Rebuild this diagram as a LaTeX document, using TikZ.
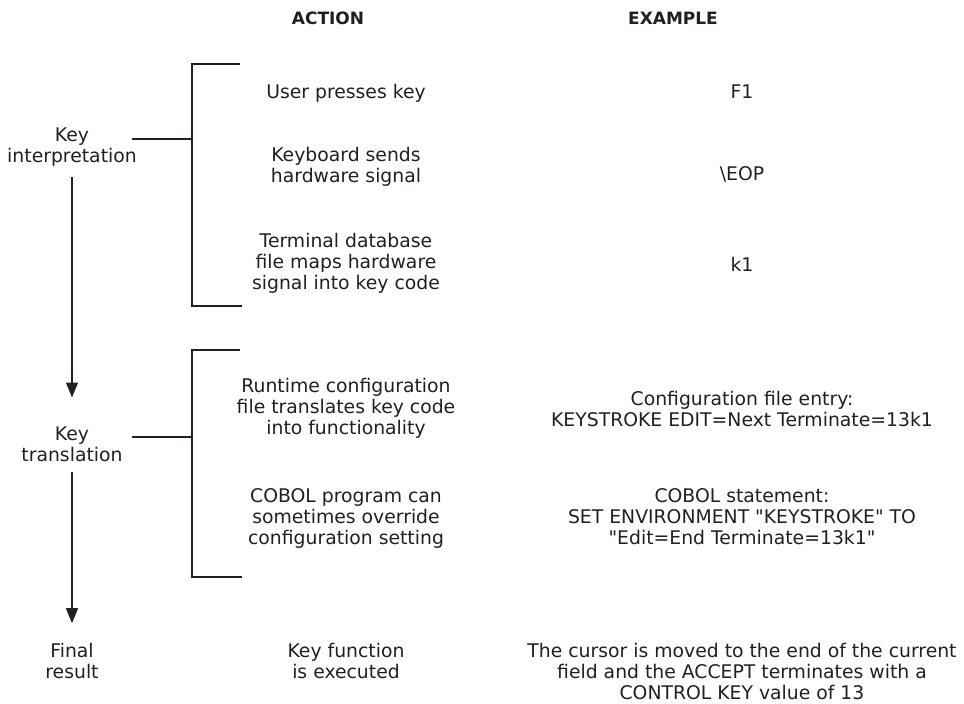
\documentclass[tikz,border=0pt]{standalone}
\usepackage{fontspec}
\setmainfont{DejaVu Sans}[Ligatures=TeXOff]
\usetikzlibrary{arrows.meta}
\definecolor{ink}{HTML}{231F20}

\begin{document}
\begin{tikzpicture}[x=1pt,y=-1pt,
  txt/.style={align=center, inner sep=0pt, text=ink,
    font=\fontsize{18.8}{21}\selectfont},
  head/.style={inner sep=0pt, text=ink,
    font=\fontsize{17}{20}\selectfont\bfseries},
  rule/.style={draw=ink, line width=1.2pt},
  flow/.style={rule, -{Triangle[length=15pt,width=12pt]}}]
\useasboundingbox (0,0) rectangle (964,704);

% column headings
\node[head] (hAction)  at (328,18) {ACTION};
\node[head] (hExample) at (673,18) {EXAMPLE};

% stages on the left
\node[txt] (ki) at (72,147) {Key\\interpretation};
\node[txt] (kt) at (72,444) {Key\\translation};
\node[txt] (fr) at (72,661) {Final\\result};

% actions
\node[txt] (a1) at (346,93)  {User presses key};
\node[txt] (a2) at (346,167) {Keyboard sends\\hardware signal};
\node[txt] (a3) at (346,263) {Terminal database\\file maps hardware\\signal into key code};
\node[txt] (a4) at (346,408) {Runtime configuration\\file translates key code\\into functionality};
\node[txt] (a5) at (346,518) {COBOL program can\\sometimes override\\configuration setting};
\node[txt] (a6) at (346,661) {Key function\\is executed};

% examples
\node[txt] (e1) at (742,92)  {F1};
\node[txt] (e2) at (742,174) {\textbackslash EOP};
\node[txt] (e3) at (742,264) {k1};
\node[txt] (e4) at (742,409) {Configuration file entry:\\KEYSTROKE EDIT=Next Terminate=13k1};
\node[txt] (e5) at (742,517) {COBOL statement:\\SET ENVIRONMENT "KEYSTROKE" TO\\"Edit=End Terminate=13k1"};
\node[txt] (e6) at (742,671) {The cursor is moved to the end of the current\\field and the ACCEPT terminates with a\\CONTROL KEY value of 13};

% brackets grouping the actions of each stage
\coordinate (b1top) at (240,64);
\coordinate (b1bot) at (242,306);
\coordinate (b1mid) at (192,139);
\coordinate (ki-tap) at (132,139);
\draw[rule] (b1top) -| (b1mid |- b1bot) -- (b1bot);
\draw[rule] (ki-tap) -- (b1mid);

\coordinate (b2top) at (240,350);
\coordinate (b2bot) at (242,577);
\coordinate (b2mid) at (192,437);
\coordinate (kt-tap) at (132,437);
\draw[rule] (b2top) -| (b2mid |- b2bot) -- (b2bot);
\draw[rule] (kt-tap) -- (b2mid);

% flow between stages
\draw[flow, shorten <=10.4pt, shorten >=28.8pt] (ki) -- (kt);
\draw[flow, shorten <=10.8pt, shorten >=19.8pt] (kt) -- (fr);
\end{tikzpicture}
\end{document}
